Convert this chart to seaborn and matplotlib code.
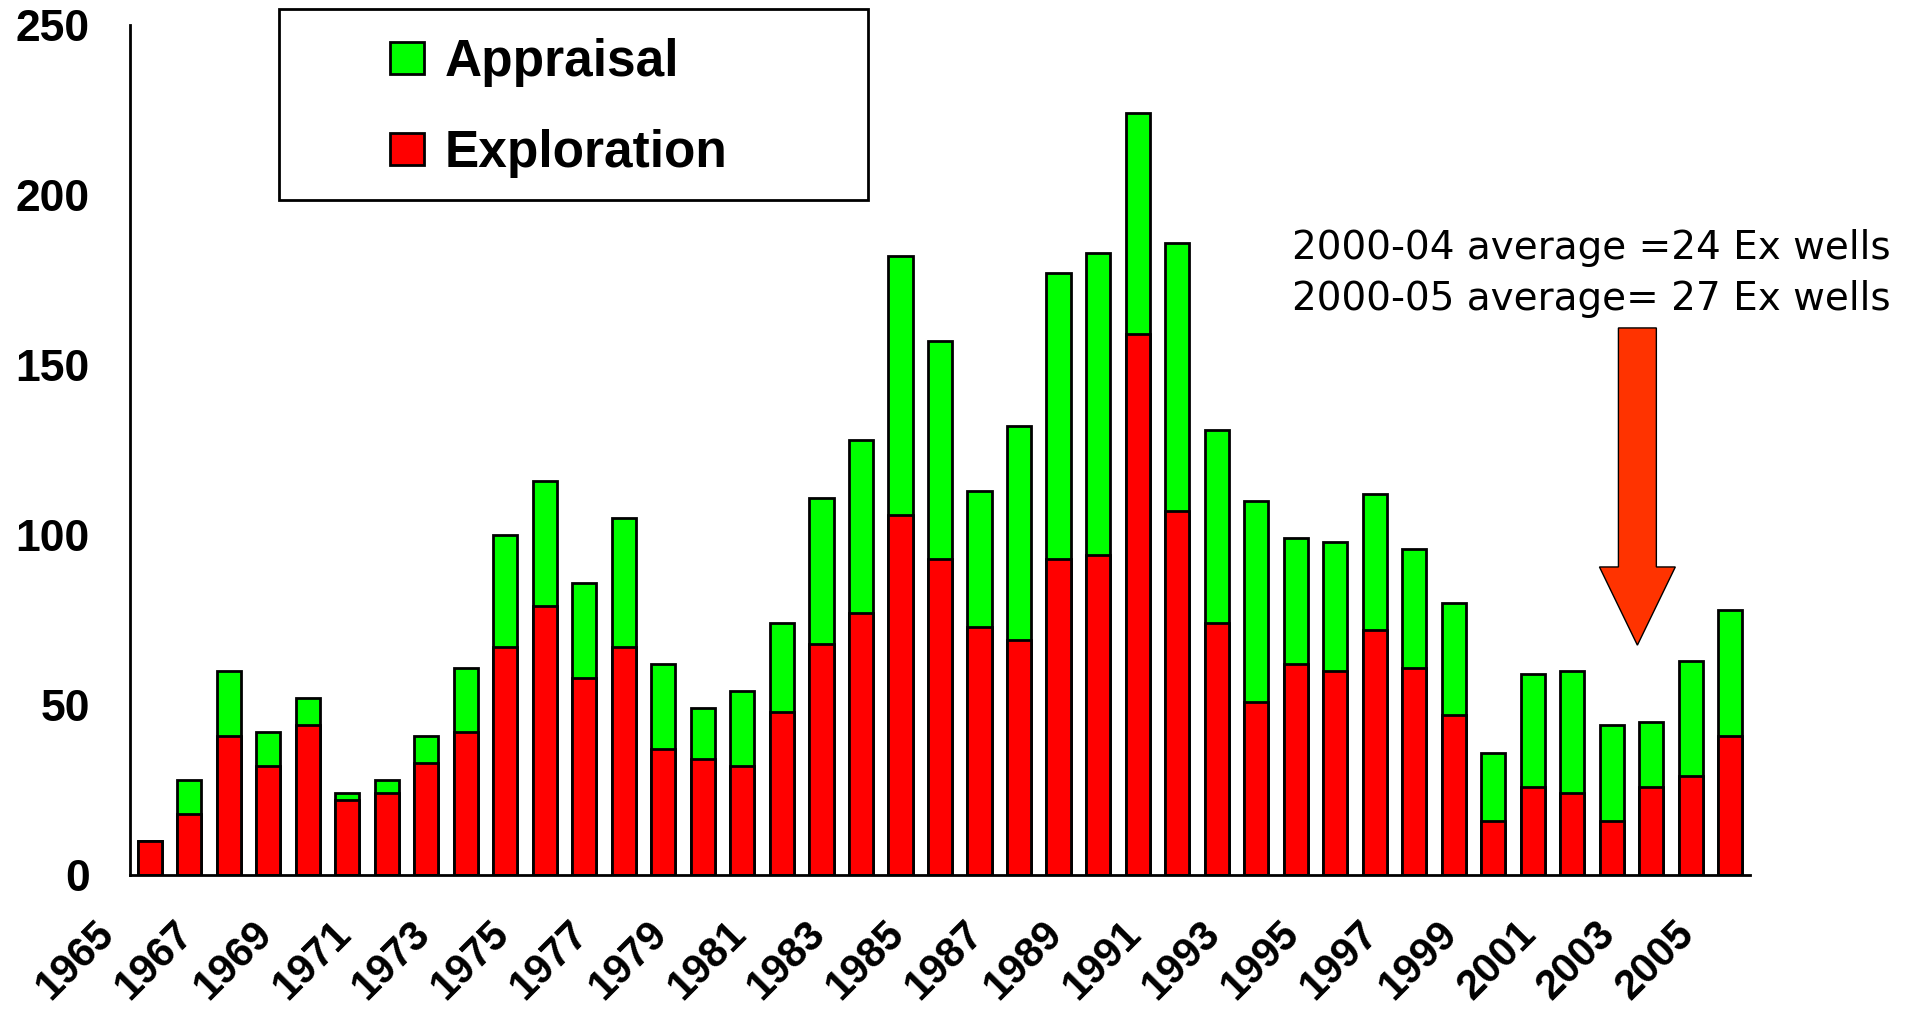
import matplotlib
matplotlib.use("Agg")
import matplotlib.pyplot as plt
import matplotlib.transforms as mtransforms
from matplotlib.patches import Patch, Rectangle, FancyArrow
import seaborn as sns
import pandas as pd

# ---- data ----
years = [str(y) for y in range(1965, 2006)]
exploration = [10, 18, 41, 32, 44, 22, 24, 33, 42, 67, 79, 58, 67, 37, 34, 32, 48,
               68, 77, 106, 93, 73, 69, 93, 94, 159, 107, 74, 51, 62, 60, 72, 61,
               47, 16, 26, 24, 16, 26, 29, 41]
appraisal = [0, 10, 19, 10, 8, 2, 4, 8, 19, 33, 37, 28, 38, 25, 15, 22, 26,
             43, 51, 76, 64, 40, 63, 84, 89, 65, 79, 57, 59, 37, 38, 40, 35,
             33, 20, 33, 36, 28, 19, 34, 37]
y_ticks = [0, 50, 100, 150, 200, 250]
note_lines = ["2000-04 average =24 Ex wells", "2000-05 average= 27 Ex wells"]

df = pd.DataFrame({"year": years, "Exploration": exploration, "Appraisal": appraisal})
df["total"] = df["Exploration"] + df["Appraisal"]

GREEN = "#00FF00"
RED = "#FF0000"

sns.set_style("white")
plt.rcParams["font.family"] = ["Liberation Sans", "DejaVu Sans"]
plt.rcParams["text.color"] = "black"
plt.rcParams["xtick.color"] = "black"
plt.rcParams["ytick.color"] = "black"

W, H = 1915, 1011
fig = plt.figure(figsize=(W / 100, H / 100), dpi=100)
ax = fig.add_axes([130 / W, 1 - 875 / H, (1750 - 130) / W, (875 - 25) / H])

# stacked bars: total (green) then exploration (red) drawn over it
sns.barplot(data=df, x="year", y="total", color=GREEN, saturation=1, width=0.61,
            edgecolor="black", linewidth=2.0, errorbar=None, ax=ax)
sns.barplot(data=df, x="year", y="Exploration", color=RED, saturation=1, width=0.61,
            edgecolor="black", linewidth=2.0, errorbar=None, ax=ax)

ax.set_xlim(-0.5, 40.5)
ax.set_ylim(0, 250)
ax.set_xlabel("")
ax.set_ylabel("")

for s in ["top", "right"]:
    ax.spines[s].set_visible(False)
for s in ["left", "bottom"]:
    ax.spines[s].set_color("black")
    ax.spines[s].set_linewidth(2.0)

# y axis
ax.set_yticks(y_ticks)
ax.set_yticklabels([str(v) for v in y_ticks], fontsize=32, fontweight="bold")
ax.tick_params(axis="y", direction="out", length=10, width=2.0, pad=19)

# x axis: ticks between groups of 5 bars, labels every second year
ax.set_xticks([-0.5 + 5 * k for k in range(9)])
ax.set_xticklabels([])
ax.tick_params(axis="x", which="major", direction="out", length=9.5, width=2.0)
ax.set_xticks(list(range(0, len(years), 2)), minor=True)
ax.set_xticklabels(years[::2], minor=True, rotation=45, ha="right", va="top",
                   fontsize=30, fontweight="bold")
ax.tick_params(axis="x", which="minor", length=0, pad=28)
shift = mtransforms.ScaledTranslation(-0.28, 0, fig.dpi_scale_trans)
for lab in ax.get_xticklabels(minor=True):
    lab.set_transform(lab.get_transform() + shift)

# legend
handles = [Patch(facecolor=GREEN, edgecolor="black", linewidth=2.0, label="Appraisal"),
           Patch(facecolor=RED, edgecolor="black", linewidth=2.0, label="Exploration")]
fig.legend(handles=handles, loc="upper left", bbox_to_anchor=(390 / W, 1 - 38 / H),
           frameon=False, borderpad=0, borderaxespad=0, handlelength=0.66,
           handleheight=0.6, handletextpad=0.4, labelspacing=0.82,
           prop={"family": "Liberation Sans", "weight": "bold", "size": 37})
fig.patches.append(Rectangle((279 / W, 1 - 200 / H), 589 / W, 191 / H,
                             transform=fig.transFigure, fill=False,
                             edgecolor="black", linewidth=2.0))

# annotation
ax.text(28.92, 181.2, note_lines[0], fontsize=28, va="baseline", ha="left",
        family="DejaVu Sans")
ax.text(28.92, 166.2, note_lines[1], fontsize=28, va="baseline", ha="left",
        family="DejaVu Sans")
ax.add_patch(FancyArrow(37.65, 160.9, 0, -93.3, width=0.96, head_width=1.92,
                        head_length=23, length_includes_head=True,
                        facecolor="#FF3300", edgecolor="black", linewidth=1))

fig.savefig("out.png", dpi=100)
